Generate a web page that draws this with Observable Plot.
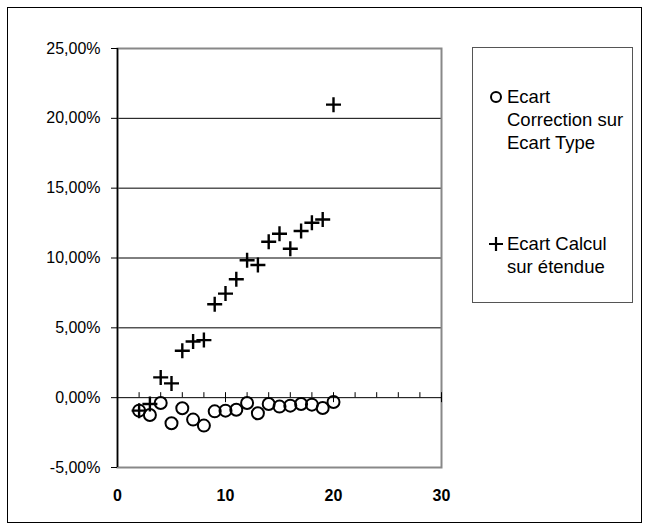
<!DOCTYPE html>
<html>
<head>
<meta charset="utf-8">
<script src="https://cdn.jsdelivr.net/npm/d3@7"></script>
<script src="https://cdn.jsdelivr.net/npm/@observablehq/plot@0.6"></script>
<style>
  html, body { margin: 0; padding: 0; background: #fff; }
  #wrap { position: relative; width: 649px; height: 529px; font-family: "Liberation Sans", Arial, sans-serif; }
  #outer { position: absolute; left: 7px; top: 7px; width: 635px; height: 516px; border: 1px solid #000; box-sizing: border-box; pointer-events: none; }
  #legend { position: absolute; left: 472px; top: 47px; width: 161px; height: 256px; border: 1px solid #555; box-sizing: border-box; background: #fff; }
  .item { position: absolute; left: 34px; font-size: 18.5px; line-height: 23px; color: #000; white-space: nowrap; }
  .sym { position: absolute; left: -19px; top: 4px; }
  #chart { position: absolute; left: 0; top: 0; }
</style>
</head>
<body>
<div id="wrap">
  <div id="chart"></div>
  <div id="outer"></div>
  <div id="legend">
    <div class="item" style="top:37px;"><svg class="sym" width="16" height="16"><circle cx="8" cy="8" r="5" fill="none" stroke="#000" stroke-width="2"/></svg>Ecart<br>Correction sur<br>Ecart Type</div>
    <div class="item" style="top:184px;"><svg class="sym" width="16" height="16"><path d="M1,8H15M8,1V15" stroke="#000" stroke-width="2.2"/></svg>Ecart Calcul<br>sur étendue</div>
  </div>
</div>
<script>
const xs = [2,3,4,5,6,7,8,9,10,11,12,13,14,15,16,17,18,19,20];
const ecartCorrection = [-0.93,-1.24,-0.38,-1.83,-0.76,-1.57,-2.0,-0.98,-0.93,-0.86,-0.38,-1.12,-0.45,-0.64,-0.57,-0.45,-0.5,-0.74,-0.31];
const ecartCalcul = [-0.93,-0.45,1.45,1.02,3.36,4.02,4.12,6.69,7.45,8.48,9.84,9.5,11.16,11.74,10.66,11.93,12.52,12.76,20.98];
const yTicks = [-0.05,0,0.05,0.10,0.15,0.20,0.25];
const xTicks = [0,10,20,30];
const xMinor = [2,4,6,8,12,14,16,18,22,24,26,28];
const gridY = [0.05,0.10,0.15,0.20];

const circles = xs.map((x,i) => ({x, y: ecartCorrection[i]/100}));
const pluses = xs.map((x,i) => ({x, y: ecartCalcul[i]/100}));

const plusSymbol = {
  draw(ctx, size) {
    const h = Math.sqrt(size / Math.PI);
    ctx.moveTo(-h, 0); ctx.lineTo(h, 0);
    ctx.moveTo(0, -h); ctx.lineTo(0, h);
  }
};

const fmt = d => (d*100).toFixed(2).replace('.', ',') + '%';

const chart = Plot.plot({
  width: 649,
  height: 529,
  marginLeft: 117,
  marginRight: 208,
  marginTop: 48,
  marginBottom: 62,
  style: {fontFamily: "Liberation Sans, Arial, sans-serif", background: "transparent"},
  x: {domain: [0,30], label: null},
  y: {domain: [-0.05,0.25], label: null},
  marks: [
    Plot.ruleY(gridY, {stroke: "#000", strokeWidth: 1}),
    Plot.frame({stroke: "#888", strokeWidth: 2}),
    Plot.ruleY([0], {stroke: "#000", strokeWidth: 1}),
    Plot.ruleX(xMinor, {x: d => d, y1: 0, y2: 0, insetTop: -5, stroke: "#000"}),
    Plot.ruleX(xTicks, {x: d => d, y1: 0, y2: 0, insetTop: -5, insetBottom: -5, stroke: "#000"}),
    Plot.ruleX([0], {stroke: "#000", strokeWidth: 1.5}),
    Plot.axisY({ticks: yTicks, tickFormat: fmt, tickSize: 6, tickPadding: 11, fontSize: 16, stroke: "#000", color: "#000", label: null}),
    Plot.axisX({ticks: xTicks, tickSize: 0, tickPadding: 22, fontSize: 16, fontWeight: "bold", color: "#000", label: null}),
    Plot.dot(circles, {x: "x", y: "y", r: 6, stroke: "#000", strokeWidth: 2, fill: "none"}),
    Plot.dot(pluses, {x: "x", y: "y", r: 7.5, symbol: plusSymbol, stroke: "#000", strokeWidth: 2.4, fill: "none"})
  ]
});
document.getElementById("chart").appendChild(chart);
</script>
</body>
</html>
